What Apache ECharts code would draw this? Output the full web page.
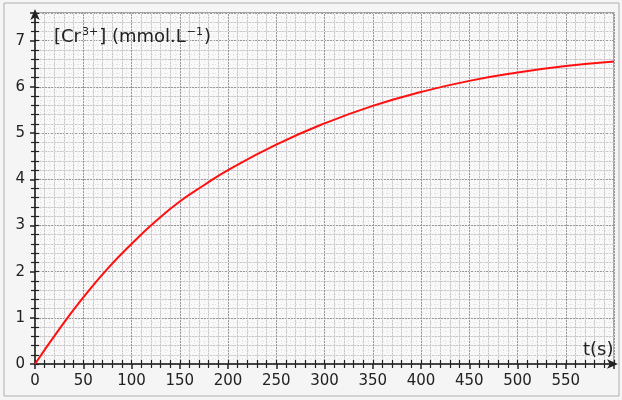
<!DOCTYPE html>
<html><head><meta charset="utf-8">
<script src="https://cdn.jsdelivr.net/npm/echarts@6/dist/echarts.min.js"></script>
<style>html,body{margin:0;padding:0;background:#f6f5f6}#c{width:622px;height:400px}</style>
</head><body><div id="c"></div>
<script>
var times = [0, 25, 50, 75, 100, 125, 150, 175, 200, 250, 300, 350, 400, 450, 500, 550, 600];
var conc  = [0, 0.75, 1.44, 2.06, 2.60, 3.09, 3.52, 3.87, 4.20, 4.75, 5.21, 5.59, 5.89, 6.13, 6.31, 6.45, 6.55];
var yLabels = ['0','1','2','3','4','5','6','7'];
var xLabelStep = 50;
var yName = '[Cr{sup|3+}] (mmol.L{sup|\u22121})';
var xName = 't(s)';

var font = 'DejaVu Sans';
var pts = times.map(function(t,i){return [t, conc[i]];});
var chart = echarts.init(document.getElementById('c'), null, {renderer:'canvas'});
var gridCol = '#cbc9cb', majorCol = '#9a989a', dotCol = '#e4e2e4';
chart.setOption({
  backgroundColor: '#f6f5f6',
  animation: false,
  title: [
    {text: yName, left: 49, top: 22, textStyle: {fontFamily: font, fontSize: 18, fontWeight: 'normal', color: '#222',
      rich: {sup: {fontFamily: font, fontSize: 11, verticalAlign: 'top', padding: [0,1,9,1], color: '#222'}}}},
    {text: xName, left: 578, top: 336, textStyle: {fontFamily: font, fontSize: 18, fontWeight: 'normal', color: '#222'}}
  ],
  graphic: [{type: 'rect', shape: {x: 4, y: 3, width: 615, height: 393}, style: {fill: 'none', stroke: '#b0aeb0', lineWidth: 1}, silent: true, z: -1}],
  grid: {left: 35, right: 8, top: 13, bottom: 36, show: true, backgroundColor: '#faf9fa', borderColor: '#8a888a', borderWidth: 1.5},
  xAxis: [
    {type: 'value', min: 0, max: 600, interval: xLabelStep, position: 'bottom',
      axisLine: {show: true, lineStyle: {color: '#222', width: 1.5}, symbol: ['none','arrow'], symbolSize: [7,11], symbolOffset: [0, 4]},
      axisTick: {show: true, inside: false, length: 5, lineStyle: {color: '#222', width: 1.5}},
      minorTick: {show: true, splitNumber: 5, length: 4, lineStyle: {color: '#222', width: 1.2}},
      splitLine: {show: true, lineStyle: {color: majorCol, width: 1}},
      minorSplitLine: {show: true, lineStyle: {color: gridCol, width: 1}},
      axisLabel: {fontFamily: font, fontSize: 15, color: '#222', margin: 10,
        formatter: function(v){ return v === 600 ? '' : String(v); }}},
    {type: 'value', min: 0, max: 600, interval: 10, position: 'bottom', offset: 0,
      axisLine: {show: false}, axisLabel: {show: false},
      axisTick: {show: true, inside: true, length: 4, lineStyle: {color: '#222', width: 1.2}},
      minorTick: {show: false},
      splitLine: {show: false},
      minorSplitLine: {show: false}},
    {type: 'value', min: 0, max: 600, interval: 5, position: 'bottom', offset: 0,
      axisLine: {show: false}, axisLabel: {show: false}, axisTick: {show: false},
      splitLine: {show: true, lineStyle: {color: dotCol, width: 1, type: [1,2]}}}
  ],
  yAxis: [
    {type: 'value', min: 0, max: 7.6, interval: 1, position: 'left',
      axisLine: {show: true, lineStyle: {color: '#222', width: 1.5}, symbol: ['none','arrow'], symbolSize: [7,11], symbolOffset: [0, 4]},
      axisTick: {show: true, inside: false, length: 5, lineStyle: {color: '#222', width: 1.5}},
      minorTick: {show: true, splitNumber: 5, length: 4, lineStyle: {color: '#222', width: 1.2}},
      splitLine: {show: true, lineStyle: {color: majorCol, width: 1}},
      minorSplitLine: {show: true, lineStyle: {color: gridCol, width: 1}},
      axisLabel: {fontFamily: font, fontSize: 15, color: '#222', margin: 10,
        formatter: function(v){ var i = Math.round(v); return (Math.abs(v - i) < 1e-6 && yLabels[i] !== undefined) ? yLabels[i] : ''; }}},
    {type: 'value', min: 0, max: 7.6, interval: 0.2, position: 'left', offset: 0,
      axisLine: {show: false}, axisLabel: {show: false},
      axisTick: {show: true, inside: true, length: 4, lineStyle: {color: '#222', width: 1.2}},
      splitLine: {show: false}},
    {type: 'value', min: 0, max: 7.6, interval: 0.1, position: 'left', offset: 0,
      axisLine: {show: false}, axisLabel: {show: false}, axisTick: {show: false},
      splitLine: {show: true, lineStyle: {color: dotCol, width: 1, type: [1,2]}}}
  ],
  series: [{type: 'line', data: pts, smooth: 0.5, showSymbol: false, xAxisIndex: 0, yAxisIndex: 0,
    lineStyle: {color: '#ff1010', width: 2}, z: 10}]
});
</script></body></html>
